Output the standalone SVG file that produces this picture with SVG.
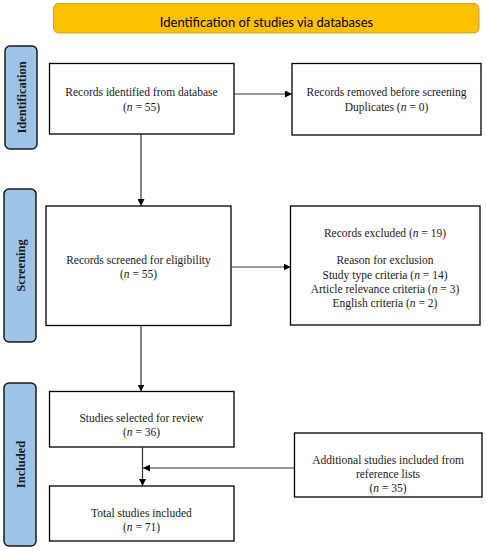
<svg xmlns="http://www.w3.org/2000/svg" width="486" height="550" viewBox="0 0 486 550">
<defs>
<style>
.box{fill:#fff;stroke:#000;stroke-width:1.3}
.side{fill:#9DC3E6;stroke:#1a1a1a;stroke-width:1.5}
.t{font-family:"Liberation Serif",serif;font-size:11.5px;fill:#1a1a1a;text-anchor:middle}
.s{font-family:"Liberation Serif",serif;font-size:12.5px;font-weight:bold;fill:#1a1a1a;text-anchor:middle}
.ln{stroke:#333;stroke-width:1.2;fill:none}
</style>
<marker id="ah" viewBox="0 0 10 10" refX="10" refY="5" markerWidth="7" markerHeight="7" markerUnits="userSpaceOnUse" orient="auto"><path d="M0,0 L10,5 L0,10 z" fill="#000"/></marker>
</defs>
<rect width="486" height="550" fill="#fff"/>
<g id="title">
<rect x="53.5" y="3.5" width="425.5" height="29.5" rx="5" fill="#FFC000" stroke="#C9A030" stroke-width="1"/>
<text x="266.5" y="26.5" style="font-family:Lato,'Open Sans',sans-serif;font-size:13px;fill:#000;text-anchor:middle">Identification of studies via databases</text>
</g>
<g id="lbl-identification">
<rect class="side" x="5" y="46" width="32" height="103" rx="5"/>
<text class="s" transform="translate(25.5,97.5) rotate(-90)">Identification</text>
</g>
<g id="lbl-screening">
<rect class="side" x="4" y="189" width="32" height="153" rx="5"/>
<text class="s" transform="translate(24.5,265.5) rotate(-90)">Screening</text>
</g>
<g id="lbl-included">
<rect class="side" x="4" y="383" width="32" height="163" rx="5"/>
<text class="s" transform="translate(24.5,464.5) rotate(-90)">Included</text>
</g>
<g id="n-identified">
<rect class="box" x="49.5" y="63.5" width="184.5" height="70.5"/>
<text class="t" x="141.5" y="96">Records identified from database</text>
<text class="t" x="141.5" y="111">(<tspan font-style="italic">n</tspan> = 55)</text>
</g>
<g id="n-removed">
<rect class="box" x="292" y="63.5" width="189" height="71.5"/>
<text class="t" x="386.5" y="96">Records removed before screening</text>
<text class="t" x="386.5" y="111">Duplicates (<tspan font-style="italic">n</tspan> = 0)</text>
</g>
<g id="n-screened">
<rect class="box" x="46" y="206" width="185" height="119.5"/>
<text class="t" x="138.5" y="264">Records screened for eligibility</text>
<text class="t" x="138.5" y="278">(<tspan font-style="italic">n</tspan> = 55)</text>
</g>
<g id="n-excluded">
<rect class="box" x="290.5" y="206" width="189.5" height="119"/>
<text class="t" x="385" y="237">Records excluded (<tspan font-style="italic">n</tspan> = 19)</text>
<text class="t" x="385" y="264">Reason for exclusion</text>
<text class="t" x="385" y="278.5">Study type criteria (<tspan font-style="italic">n</tspan> = 14)</text>
<text class="t" x="385" y="292.5">Article relevance criteria (<tspan font-style="italic">n</tspan> = 3)</text>
<text class="t" x="385" y="306.5">English criteria (<tspan font-style="italic">n</tspan> = 2)</text>
</g>
<g id="n-selected">
<rect class="box" x="49.5" y="391.5" width="184.5" height="55.5"/>
<text class="t" x="141.5" y="422">Studies selected for review</text>
<text class="t" x="141.5" y="436">(<tspan font-style="italic">n</tspan> = 36)</text>
</g>
<g id="n-total">
<rect class="box" x="49.5" y="486" width="184.5" height="55"/>
<text class="t" x="141.5" y="517">Total studies included</text>
<text class="t" x="141.5" y="531">(<tspan font-style="italic">n</tspan> = 71)</text>
</g>
<g id="n-additional">
<rect class="box" x="294.5" y="433" width="187.5" height="64"/>
<text class="t" x="388" y="464">Additional studies included from</text>
<text class="t" x="388" y="478">reference lists</text>
<text class="t" x="388" y="492">(<tspan font-style="italic">n</tspan> = 35)</text>
</g>
<g id="connectors">
<line class="ln" x1="234" y1="94" x2="292" y2="94" marker-end="url(#ah)"/>
<line class="ln" x1="141" y1="134" x2="141" y2="206" marker-end="url(#ah)"/>
<line class="ln" x1="231" y1="267" x2="290.5" y2="267" marker-end="url(#ah)"/>
<line class="ln" x1="141" y1="325.5" x2="141" y2="391.5" marker-end="url(#ah)"/>
<line class="ln" x1="142.5" y1="447" x2="142.5" y2="486" marker-end="url(#ah)"/>
<line class="ln" x1="294.5" y1="468" x2="143" y2="468" marker-end="url(#ah)"/>
</g>
</svg>
